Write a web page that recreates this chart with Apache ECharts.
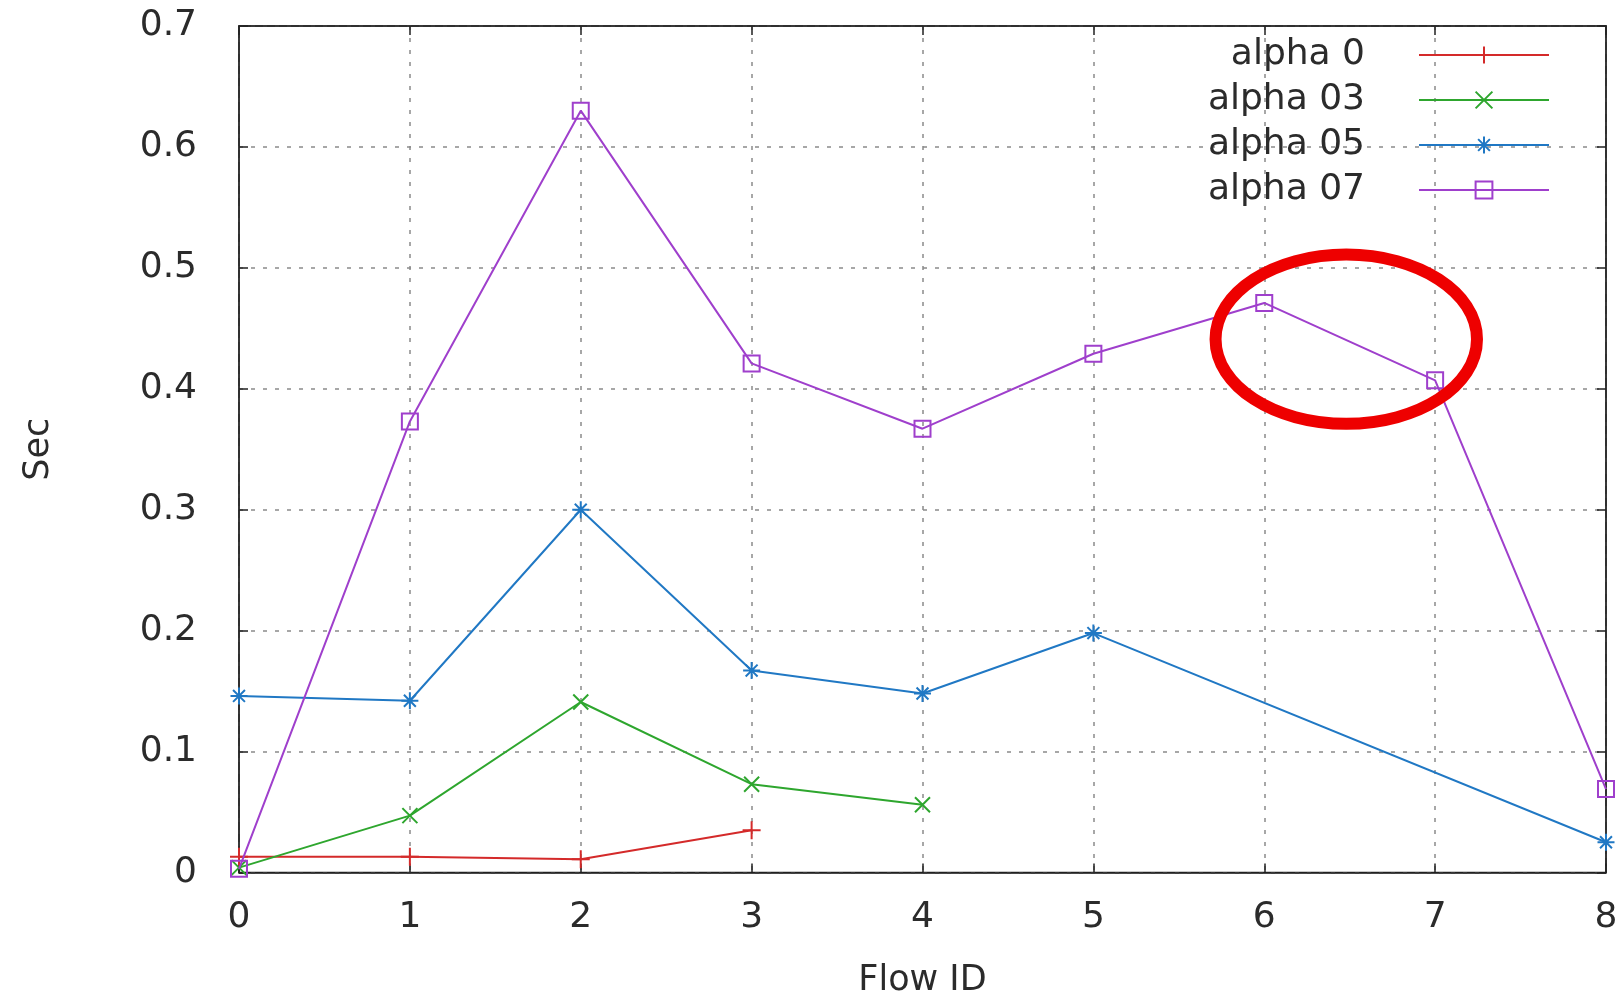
<!DOCTYPE html>
<html>
<head>
<meta charset="utf-8">
<script src="https://cdn.jsdelivr.net/npm/echarts@6/dist/echarts.min.js"></script>
<style>
  html, body { margin: 0; padding: 0; background: #fff; }
  #chart { width: 1623px; height: 997px; }
</style>
</head>
<body>
<div id="chart"></div>
<script>
// Delay per flow, one [flowId, seconds] pair per measured point
const alpha0  = [[0, 0.013], [1, 0.013], [2, 0.011], [3, 0.035]];
const alpha03 = [[0, 0.004], [1, 0.047], [2, 0.141], [3, 0.073], [4, 0.056]];
const alpha05 = [[0, 0.146], [1, 0.142], [2, 0.300], [3, 0.167], [4, 0.148], [5, 0.198], [8, 0.025]];
const alpha07 = [[0, 0.003], [1, 0.373], [2, 0.630], [3, 0.421], [4, 0.367], [5, 0.429], [6, 0.471], [7, 0.407], [8, 0.069]];

const seriesNames = ['alpha 0', 'alpha 03', 'alpha 05', 'alpha 07'];
const seriesColors = ['#d42a2a', '#2ea62e', '#2078c4', '#9f3fcc'];
const xTicks = { min: 0, max: 8, interval: 1 };
const yTicks = { min: 0, max: 0.7, interval: 0.1 };

// Highlighted region (centre and radii in data units)
const highlight = { cx: 6.48, cy: 0.441, rx: 0.765, ry: 0.070 };

// gnuplot-style point shapes: +, x, *, open square
const markers = [
  'path://M0,-10L0,10M-10,0L10,0',
  'path://M-10,-10L10,10M-10,10L10,-10',
  'path://M0,-10L0,10M-10,0L10,0M-7,-7L7,7M-7,7L7,-7',
  'path://M-10,-10L10,-10L10,10L-10,10Z'
];
const markerSizes = [18, 15, 17, 16];

const FONT = 'DejaVu Sans';
const TEXT = '#2b2b2b';

const chart = echarts.init(document.getElementById('chart'), null, { renderer: 'canvas' });

function makeSeries(name, data, i) {
  return {
    name: name,
    type: 'line',
    data: data,
    xAxisIndex: 0,
    yAxisIndex: 0,
    symbol: markers[i],
    symbolSize: markerSizes[i],
    symbolKeepAspect: true,
    showAllSymbol: true,
    clip: false,
    lineStyle: { color: seriesColors[i], width: 2 },
    itemStyle: { color: 'rgba(0,0,0,0)', borderColor: seriesColors[i], borderWidth: 2 },
    emphasis: { disabled: true },
    z: 3 + i
  };
}

const dashGrid = { show: true, lineStyle: { color: '#8a8a8a', width: 1.5, type: [4, 8] } };
const frameLine = { show: true, onZero: false, lineStyle: { color: '#222', width: 1.5 } };
const innerTick = { show: true, inside: true, length: 9, lineStyle: { color: '#222', width: 1.5 } };

const option = {
  animation: false,
  backgroundColor: '#fff',
  textStyle: { fontFamily: FONT },
  grid: {
    left: 239, right: 17, top: 26, bottom: 124.5,
    outerBoundsMode: 'none',
    containLabel: false,
    show: true, borderColor: '#222', borderWidth: 1.5, backgroundColor: 'transparent'
  },
  legend: {
    data: seriesNames,
    orient: 'vertical',
    right: 73,
    top: 37,
    align: 'right',
    padding: 0,
    itemWidth: 130,
    itemHeight: 21,
    itemGap: 9,
    selectedMode: false,
    textStyle: { fontFamily: FONT, fontSize: 36, color: TEXT, padding: [0, 49, 0, 0] }
  },
  xAxis: [
    {
      type: 'value', min: xTicks.min, max: xTicks.max, interval: xTicks.interval,
      name: 'Flow ID', nameLocation: 'middle', nameGap: 91,
      nameTextStyle: { fontFamily: FONT, fontSize: 35, color: TEXT },
      axisLine: frameLine,
      axisTick: innerTick,
      axisLabel: { fontFamily: FONT, fontSize: 36, color: TEXT, margin: 27 },
      splitLine: dashGrid
    },
    {
      type: 'value', position: 'top', min: xTicks.min, max: xTicks.max, interval: xTicks.interval,
      axisLine: frameLine,
      axisTick: innerTick,
      axisLabel: { show: false },
      splitLine: { show: false }
    }
  ],
  yAxis: [
    {
      type: 'value', min: yTicks.min, max: yTicks.max, interval: yTicks.interval,
      name: 'Sec', nameLocation: 'middle', nameGap: 183, nameRotate: 90,
      nameTextStyle: { fontFamily: FONT, fontSize: 35, color: TEXT },
      axisLine: frameLine,
      axisTick: innerTick,
      axisLabel: {
        fontFamily: FONT, fontSize: 36, color: TEXT, margin: 42,
        formatter: function (v) { return v === 0 ? '0' : v.toFixed(1); }
      },
      splitLine: dashGrid
    },
    {
      type: 'value', position: 'right', min: yTicks.min, max: yTicks.max, interval: yTicks.interval,
      axisLine: frameLine,
      axisTick: innerTick,
      axisLabel: { show: false },
      splitLine: { show: false }
    }
  ],
  series: [
    makeSeries(seriesNames[0], alpha0, 0),
    makeSeries(seriesNames[1], alpha03, 1),
    makeSeries(seriesNames[2], alpha05, 2),
    makeSeries(seriesNames[3], alpha07, 3)
  ]
};

chart.setOption(option);

// Red ring around flows 6-7, placed through the axis scales
const c = chart.convertToPixel({ gridIndex: 0 }, [highlight.cx, highlight.cy]);
const e = chart.convertToPixel({ gridIndex: 0 }, [highlight.cx + highlight.rx, highlight.cy + highlight.ry]);
chart.setOption({
  graphic: [{
    type: 'ellipse',
    z: 100,
    shape: { cx: c[0], cy: c[1], rx: Math.abs(e[0] - c[0]), ry: Math.abs(c[1] - e[1]) },
    style: { fill: 'none', stroke: '#ee0000', lineWidth: 12 }
  }]
});
</script>
</body>
</html>
